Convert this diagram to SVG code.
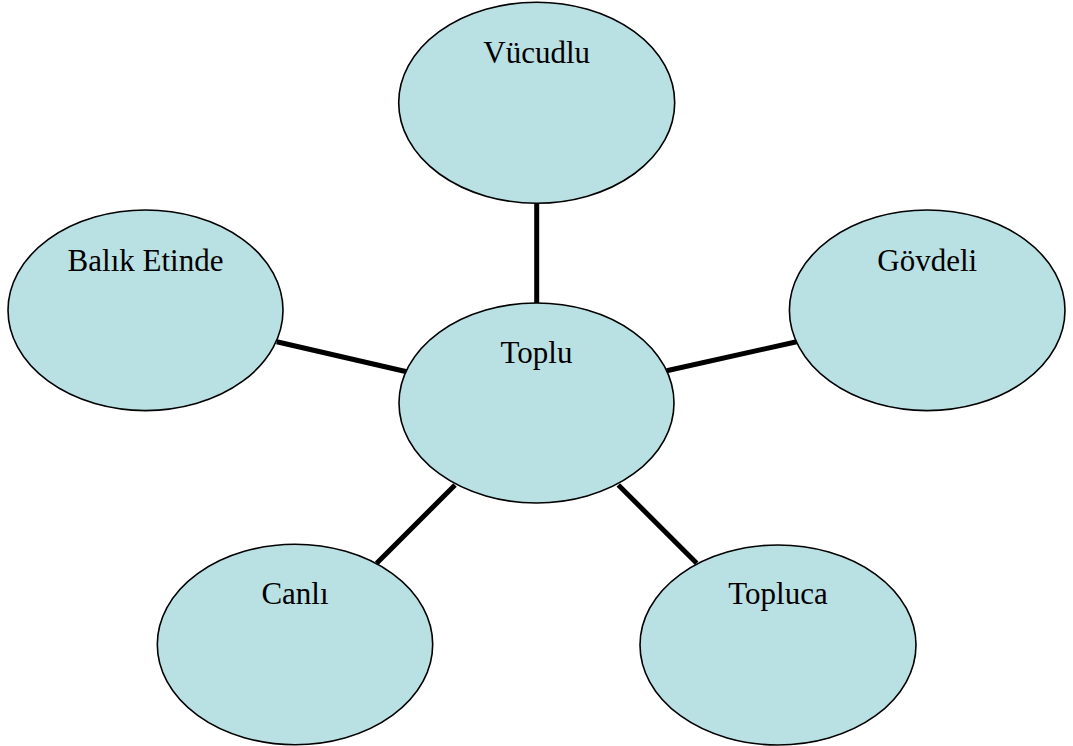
<svg xmlns="http://www.w3.org/2000/svg" width="1073" height="746" viewBox="0 0 1073 746">
<style>
.n ellipse{fill:#B9E0E3;stroke:#000;stroke-width:1.6}
.n text{font-family:"Liberation Serif","Times New Roman",serif;font-size:31px;fill:#000;text-anchor:middle}
.c line{stroke:#000;stroke-width:5}
</style>
<rect width="1073" height="746" fill="#fff"/>
<g class="c" id="connectors">
<line x1="536.7" y1="203" x2="536.7" y2="304"/>
<line x1="276.7" y1="341.7" x2="406.7" y2="371.7"/>
<line x1="666.7" y1="370.7" x2="796.7" y2="341.7"/>
<line x1="455" y1="485" x2="376.7" y2="563.3"/>
<line x1="618.3" y1="485" x2="696.7" y2="563.3"/>
</g>
<g class="n" id="vucudlu"><ellipse cx="536.7" cy="102.7" rx="138" ry="100.5"/><text x="536.7" y="63">Vücudlu</text></g>
<g class="n" id="balik"><ellipse cx="145.5" cy="310.3" rx="137.5" ry="100.3"/><text x="145.5" y="271">Balık Etinde</text></g>
<g class="n" id="govdeli"><ellipse cx="927.2" cy="310.3" rx="137.8" ry="100.3"/><text x="927.2" y="271">Gövdeli</text></g>
<g class="n" id="toplu"><ellipse cx="536.5" cy="403" rx="137.5" ry="100"/><text x="536.5" y="363">Toplu</text></g>
<g class="n" id="canli"><ellipse cx="295" cy="644.5" rx="137.7" ry="100.2"/><text x="295" y="604">Canlı</text></g>
<g class="n" id="topluca"><ellipse cx="778" cy="645" rx="138" ry="100"/><text x="778" y="604">Topluca</text></g>
</svg>
